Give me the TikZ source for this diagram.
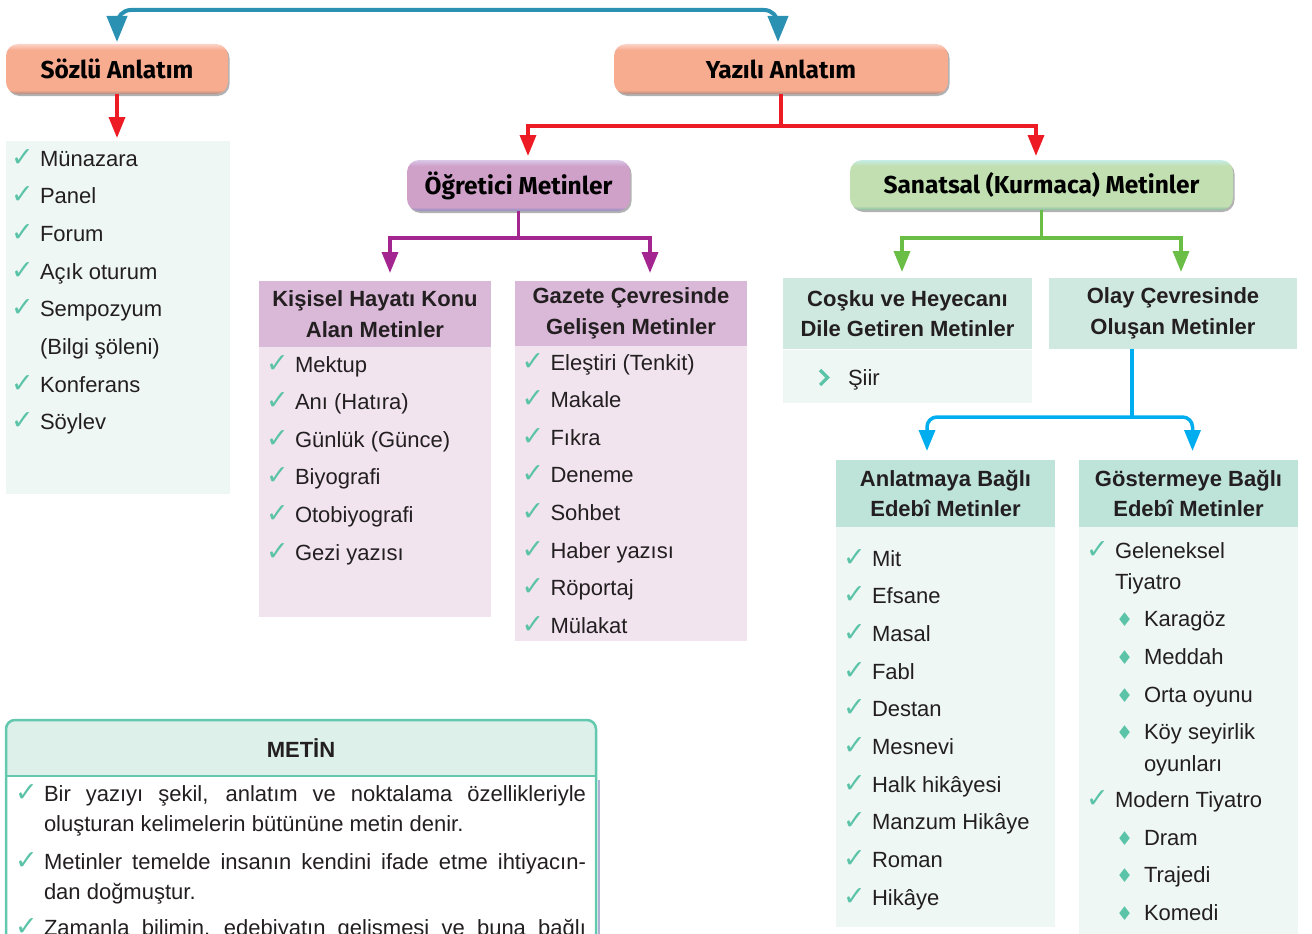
\documentclass[tikz,border=0pt]{standalone}
\usepackage{fontspec}
\setmainfont{Liberation Sans}
\newfontfamily\titlefont{Fira Sans}
\newfontfamily\symfont{DejaVu Sans}
\usetikzlibrary{arrows.meta,shadows}

\definecolor{txt}{HTML}{231F20}
\definecolor{bluec}{HTML}{2A91B3}
\definecolor{redc}{HTML}{ED1C24}
\definecolor{purl}{HTML}{A3258F}
\definecolor{grnl}{HTML}{6ABD45}
\definecolor{cyanl}{HTML}{00AEEF}
\definecolor{chkc}{HTML}{5BC3A7}
\definecolor{mint}{HTML}{EEF7F4}
\definecolor{minth}{HTML}{CFE8E0}
\definecolor{minthb}{HTML}{BEE3D8}
\definecolor{purh}{HTML}{DAB8D8}
\definecolor{purb}{HTML}{F1E4EF}
\definecolor{mborder}{HTML}{62C8AE}
\definecolor{mhead}{HTML}{DDF0EA}
\definecolor{sallt}{HTML}{FBD3C8}
\definecolor{salmn}{HTML}{F7AB8F}
\definecolor{saldk}{HTML}{B08C80}
\definecolor{purlt}{HTML}{D9C8E8}
\definecolor{purmn}{HTML}{CFA1C9}
\definecolor{purdk}{HTML}{8E8EC2}
\definecolor{grlt}{HTML}{C6EDE6}
\definecolor{grmn}{HTML}{C1DFB0}
\definecolor{grdk}{HTML}{86BCA0}

\pgfdeclareverticalshading{salsh}{100bp}{color(0bp)=(saldk); color(25bp)=(saldk); color(29bp)=(salmn); color(69bp)=(salmn); color(75bp)=(sallt); color(100bp)=(sallt)}
\pgfdeclareverticalshading{pursh}{100bp}{color(0bp)=(purdk); color(25bp)=(purdk); color(29bp)=(purmn); color(69bp)=(purmn); color(75bp)=(purlt); color(100bp)=(purlt)}
\pgfdeclareverticalshading{grsh}{100bp}{color(0bp)=(grdk); color(25bp)=(grdk); color(29bp)=(grmn); color(69bp)=(grmn); color(75bp)=(grlt); color(100bp)=(grlt)}

\newcommand\chkmark{{\symfont\color{chkc}\fontsize{27}{27}\selectfont ✓}}
\newcommand\diamark{{\symfont\color{chkc}\fontsize{19}{19}\selectfont ♦}}
\newcommand\ck{\makebox[29pt][l]{\chkmark}}
\newcommand\dm{\makebox[28pt][l]{\diamark}}

\tikzset{
  titlebox/.style={rectangle, rounded corners=12pt, inner sep=0pt, outer sep=0pt,
    font=\titlefont\bfseries\fontsize{24.5}{24.5}\selectfont, text=black,
    drop shadow={shadow xshift=1.5pt, shadow yshift=-2pt, fill=black, opacity=0.3}},
  bg/.style={rectangle, inner sep=0pt, outer sep=0pt, draw=none},
  hdr/.style={bg, align=center, text=txt, font=\bfseries\fontsize{22}{30.5}\selectfont},
  itm/.style={anchor=base west, inner sep=0pt, outer sep=0pt, text=txt, font=\fontsize{22}{26}\selectfont},
  conn/.style={line width=3.5pt},
  tip/.style={-{Triangle[width=16pt,length=21pt]}},
}

\begin{document}
\begin{tikzpicture}[x=1pt, y=-1pt]
\useasboundingbox (0,0) rectangle (1312,934);

% ---------- title boxes ----------
\node[titlebox, shading=salsh, minimum width=222pt, minimum height=50pt] (sozlu) at (117,69) {Sözlü Anlatım};
\node[titlebox, shading=salsh, minimum width=334pt, minimum height=50pt] (yazili) at (781,69) {Yazılı Anlatım};
\node[titlebox, shading=pursh, minimum width=223pt, minimum height=51pt] (ogretici) at (518.5,185.5) {Öğretici Metinler};
\node[titlebox, shading=grsh, minimum width=383pt, minimum height=50pt] (sanatsal) at (1041.5,185) {Sanatsal (Kurmaca) Metinler};

% ---------- top blue connector ----------
\coordinate (tb) at (450,10);
\draw[bluec, line width=4pt, rounded corners=14pt, {Triangle[width=20pt,length=26pt]}-{Triangle[width=20pt,length=26pt]}, shorten <=2pt, shorten >=2pt]
  (sozlu.north) |- (tb) -| ([xshift=-3pt]yazili.north);

% ---------- Sözlü list ----------
\node[bg, fill=mint, minimum width=224pt, minimum height=353pt] (slist) at (118,317.5) {};
\draw[redc, conn, tip, shorten >=3pt] (sozlu.south) -- (sozlu.south |- slist.north);
\node[itm] (s1) at (11,166) {\ck Münazara};
\node[itm] (s2) at (11,203.7) {\ck Panel};
\node[itm] (s3) at (11,241.4) {\ck Forum};
\node[itm] (s4) at (11,279.1) {\ck Açık oturum};
\node[itm] (s5) at (11,316.8) {\ck Sempozyum};
\node[itm] (s6) at (40,354.5) {(Bilgi şöleni)};
\node[itm] (s7) at (11,392.2) {\ck Konferans};
\node[itm] (s8) at (11,429.9) {\ck Söylev};

% ---------- red connector from Yazılı ----------
\coordinate (rj) at (781,126);
\draw[redc, conn] (yazili.south) -- (rj);
\draw[redc, conn, tip, shorten >=4pt] (rj) -| ([xshift=9.5pt]ogretici.north);
\draw[redc, conn, tip, shorten >=4pt] (rj) -| ([xshift=-5.5pt]sanatsal.north);

% ---------- Öğretici subtree ----------
\node[hdr, fill=purh, minimum width=232pt, minimum height=66pt] (kish) at (375,314) {Kişisel Hayatı Konu\\Alan Metinler};
\node[bg, fill=purb, minimum width=232pt, minimum height=270pt] (kisb) at (375,482) {};
\node[hdr, fill=purh, minimum width=232pt, minimum height=65pt] (gazh) at (631,313.5) {Gazete Çevresinde\\Gelişen Metinler};
\node[bg, fill=purb, minimum width=232pt, minimum height=295pt] (gazb) at (631,493.5) {};

\coordinate (pj) at (518.5,238);
\draw[purl, conn] (ogretici.south) -- (pj);
\draw[purl, conn, tip, shorten >=8pt] (pj) -| ([xshift=15pt]kish.north);
\draw[purl, conn, tip, shorten >=8pt] (pj) -| ([xshift=19pt]gazh.north);

\node[itm] (k1) at (266,372) {\ck Mektup};
\node[itm] (k2) at (266,409.6) {\ck Anı (Hatıra)};
\node[itm] (k3) at (266,447.2) {\ck Günlük (Günce)};
\node[itm] (k4) at (266,484.8) {\ck Biyografi};
\node[itm] (k5) at (266,522.4) {\ck Otobiyografi};
\node[itm] (k6) at (266,560) {\ck Gezi yazısı};

\node[itm] (g1) at (521.5,370) {\ck Eleştiri (Tenkit)};
\node[itm] (g2) at (521.5,407.6) {\ck Makale};
\node[itm] (g3) at (521.5,445.2) {\ck Fıkra};
\node[itm] (g4) at (521.5,482.8) {\ck Deneme};
\node[itm] (g5) at (521.5,520.4) {\ck Sohbet};
\node[itm] (g6) at (521.5,558) {\ck Haber yazısı};
\node[itm] (g7) at (521.5,595.6) {\ck Röportaj};
\node[itm] (g8) at (521.5,633.2) {\ck Mülakat};

% ---------- Sanatsal subtree ----------
\node[hdr, fill=minth, minimum width=249pt, minimum height=71pt] (coskuh) at (907.5,313.5) {Coşku ve Heyecanı\\Dile Getiren Metinler};
\node[bg, fill=mint, minimum width=249pt, minimum height=53pt] (coskub) at (907.5,376.5) {};
\node[hdr, fill=minth, minimum width=248pt, minimum height=71pt] (olayh) at (1173,313.5) {Olay Çevresinde\\Oluşan Metinler};

\coordinate (gj) at (1041.5,238);
\draw[grnl, conn] (sanatsal.south) -- (gj);
\draw[grnl, conn, tip, shorten >=6pt] (gj) -| ([xshift=-5.5pt]coskuh.north);
\draw[grnl, conn, tip, shorten >=6pt] (gj) -| ([xshift=8pt]olayh.north);

\draw[chkc, line width=3.2pt] (820,370) -- (827.5,377.5) -- (820,385);
\node[itm] (siir) at (848,385) {Şiir};

\node[hdr, fill=minthb, minimum width=219pt, minimum height=67pt] (anlh) at (945.5,493.5) {Anlatmaya Bağlı\\Edebî Metinler};
\node[bg, fill=mint, minimum width=219pt, minimum height=400pt] (anlb) at (945.5,727) {};
\node[hdr, fill=minthb, minimum width=219pt, minimum height=67pt] (gosh) at (1188.5,493.5) {Göstermeye Bağlı\\Edebî Metinler};
\node[bg, fill=mint, minimum width=219pt, minimum height=413pt] (gosb) at (1188.5,733.5) {};

\coordinate (cj) at (1132,417);
\draw[cyanl, conn] (olayh.south -| cj) -- (cj);
\draw[cyanl, conn, rounded corners=10pt, {Triangle[width=16pt,length=21pt]}-{Triangle[width=16pt,length=21pt]}, shorten <=9pt, shorten >=9pt]
  ([xshift=-18.5pt]anlh.north) |- (cj) -| ([xshift=4pt]gosh.north);

\node[itm] (a1) at (843,566) {\ck Mit};
\node[itm] (a2) at (843,603.7) {\ck Efsane};
\node[itm] (a3) at (843,641.3) {\ck Masal};
\node[itm] (a4) at (843,679) {\ck Fabl};
\node[itm] (a5) at (843,716.7) {\ck Destan};
\node[itm] (a6) at (843,754.3) {\ck Mesnevi};
\node[itm] (a7) at (843,792) {\ck Halk hikâyesi};
\node[itm] (a8) at (843,829.7) {\ck Manzum Hikâye};
\node[itm] (a9) at (843,867.3) {\ck Roman};
\node[itm] (a10) at (843,905) {\ck Hikâye};

\node[itm] (b1) at (1086,558) {\ck Geleneksel};
\node[itm] (b2) at (1115,589) {Tiyatro};
\node[itm] (b3) at (1116,626) {\dm Karagöz};
\node[itm] (b4) at (1116,664) {\dm Meddah};
\node[itm] (b5) at (1116,702) {\dm Orta oyunu};
\node[itm] (b6) at (1116,739) {\dm Köy seyirlik};
\node[itm] (b7) at (1144,771) {oyunları};
\node[itm] (b8) at (1086,807) {\ck Modern Tiyatro};
\node[itm] (b9) at (1116,845) {\dm Dram};
\node[itm] (b10) at (1116,882) {\dm Trajedi};
\node[itm] (b11) at (1116,920) {\dm Komedi};

% ---------- METİN box ----------
\fill[mhead, rounded corners=9pt] (6,720) rectangle (596,800);
\fill[white] (6,776) rectangle (596,990);
\draw[color=purdk!70!white, line width=2pt] (599,780) -- (599,990);
\draw[mborder, line width=2.5pt] (6,776) -- (596,776);
\draw[mborder, line width=2.5pt, rounded corners=9pt] (6,720) rectangle (596,990);
\node[font=\bfseries\fontsize{22}{22}\selectfont, text=txt, inner sep=0pt] (metin) at (301,748) {METİN};
\node[itm] (m1) at (15,801) {\ck\makebox[542pt][s]{Bir yazıyı şekil, anlatım ve noktalama özellikleriyle}};
\node[itm] (m2) at (44,831) {oluşturan kelimelerin bütününe metin denir.};
\node[itm] (m3) at (15,869) {\ck\makebox[542pt][s]{Metinler temelde insanın kendini ifade etme ihtiyacın-}};
\node[itm] (m4) at (44,899) {dan doğmuştur.};
\node[itm] (m5) at (15,935) {\ck\makebox[542pt][s]{Zamanla bilimin, edebiyatın gelişmesi ve buna bağlı}};
\end{tikzpicture}
\end{document}
